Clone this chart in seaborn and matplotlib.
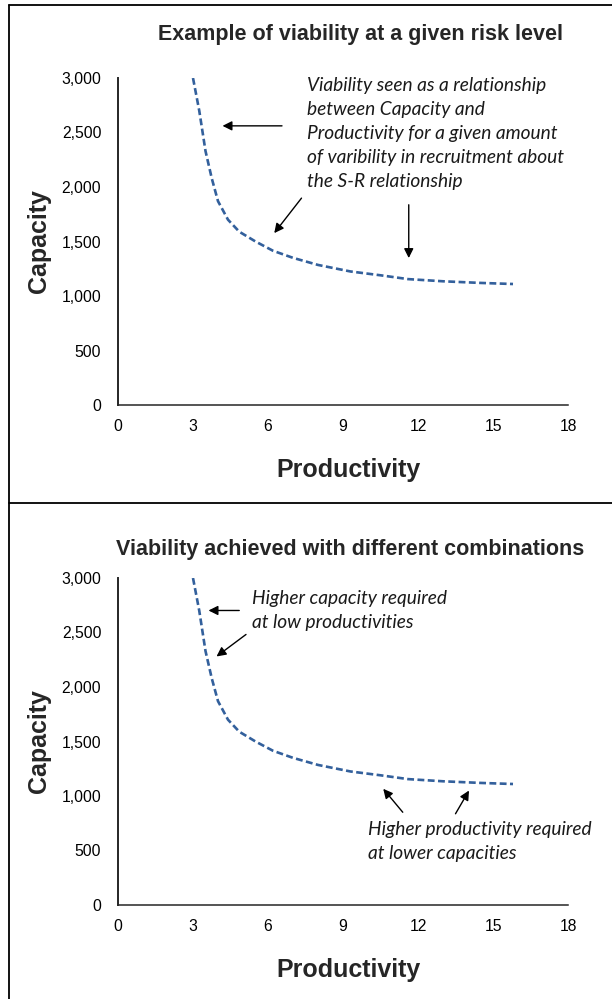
import matplotlib
matplotlib.use('Agg')
import matplotlib.pyplot as plt
from matplotlib.lines import Line2D
from matplotlib.ticker import FuncFormatter
import seaborn as sns

# viability curve (productivity vs capacity)
productivity = [3.0, 3.25, 3.5, 3.75, 4.0, 4.4, 4.85, 5.5, 6.2, 7.0, 8.0, 9.3, 10.5, 11.6, 13.0, 14.5, 15.8]
capacity = [3000, 2700, 2330, 2080, 1870, 1700, 1590, 1500, 1415, 1350, 1285, 1225, 1190, 1155, 1135, 1120, 1110]

x_ticks = [0, 3, 6, 9, 12, 15, 18]
y_ticks = [0, 500, 1000, 1500, 2000, 2500, 3000]

titles = ['Example of viability at a given risk level',
          'Viability achieved with different combinations']

top_note = ('Viability seen as a relationship\nbetween Capacity and\n'
            'Productivity for a given amount\nof varibility in recruitment about\n'
            'the S-R relationship')
low_note = 'Higher capacity required\nat low productivities'
high_note = 'Higher productivity required\nat lower capacities'

# arrows: (tail, head) in data units
top_arrows = [((6.56, 2561), (4.18, 2561)),
              ((7.34, 1898), (6.25, 1577)),
              ((11.63, 1837), (11.63, 1348))]
bottom_arrows = [((4.85, 2702), (3.62, 2702)),
                 ((5.12, 2482), (3.94, 2280)),
                 ((11.39, 851), (10.61, 1066)),
                 ((13.5, 837), (14.04, 1050))]

LINE_COLOR = '#33609C'
W, H = 612, 999


def style_axes(ax, title, title_xy):
    ax.set_xlim(0, 18)
    ax.set_ylim(0, 3000)
    ax.set_xticks(x_ticks)
    ax.set_yticks(y_ticks)
    ax.yaxis.set_major_formatter(FuncFormatter(lambda v, p: f'{int(v):,}'))
    ax.tick_params(axis='both', direction='out', length=4, width=1, labelsize=11.3, colors='black')
    ax.tick_params(axis='y', pad=8)
    ax.tick_params(axis='x', pad=6)
    sns.despine(ax=ax)
    ax.spines['left'].set_linewidth(1.4)
    ax.spines['bottom'].set_linewidth(1.1)
    ax.set_xlabel('Productivity', fontsize=18, fontweight='bold')
    ax.set_ylabel('Capacity', fontsize=18, fontweight='bold')
    ax.xaxis.set_label_coords(0.512, -0.162)
    ax.yaxis.set_label_coords(-0.15, 0.5)
    ax.text(title_xy[0], title_xy[1], title, transform=ax.transAxes, ha='center', va='center',
            fontsize=15.5, fontweight='bold')


def draw_curve(ax):
    sns.lineplot(x=productivity, y=capacity, ax=ax, color=LINE_COLOR, lw=1.9,
                 linestyle=(0, (2.6, 1.3)), estimator=None, sort=False)


def draw_arrows(ax, arrows):
    for tail, head in arrows:
        ax.annotate('', xy=head, xytext=tail,
                    arrowprops=dict(arrowstyle='-|>', color='black', lw=1,
                                    mutation_scale=14, shrinkA=0, shrinkB=0))


def note(ax, x, y, s):
    ax.text(x, y, s, ha='left', va='center', fontsize=13.8, style='italic',
            family=['Lato', 'DejaVu Sans'], linespacing=1.5, color='#1a1a1a')


def main():
    sns.set_theme(style='white')
    plt.rcParams['font.family'] = ['Liberation Sans', 'DejaVu Sans']

    fig = plt.figure(figsize=(W / 100, H / 100), dpi=100)
    ax1 = fig.add_axes([118 / W, 1 - 405 / H, 450 / W, 327 / H])
    ax2 = fig.add_axes([118 / W, 1 - 905 / H, 450 / W, 327 / H])

    for ax in (ax1, ax2):
        draw_curve(ax)

    style_axes(ax1, titles[0], (0.538, 1.134))
    style_axes(ax2, titles[1], (0.516, 1.088))

    draw_arrows(ax1, top_arrows)
    draw_arrows(ax2, bottom_arrows)
    note(ax1, 7.57, 2494, top_note)
    note(ax2, 5.36, 2702, low_note)
    note(ax2, 9.99, 580, high_note)

    # panel frames
    for seg in [([9 / W, 9 / W], [0, 1 - 5 / H]),
                ([9 / W, 1], [1 - 5 / H, 1 - 5 / H]),
                ([9 / W, 1], [1 - 503 / H, 1 - 503 / H])]:
        fig.add_artist(Line2D(seg[0], seg[1], transform=fig.transFigure, color='black', lw=1.3))

    fig.savefig('out.png', dpi=100)


if __name__ == '__main__':
    main()
